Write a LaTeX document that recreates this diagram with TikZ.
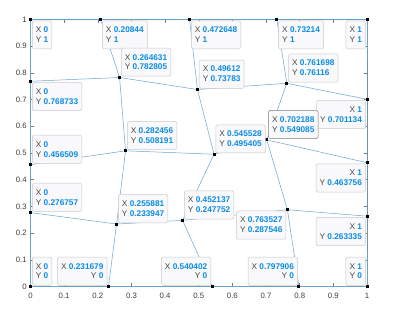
\documentclass[tikz,border=0pt]{standalone}
\usepackage{fontspec}
\setmainfont{Liberation Sans}
\usetikzlibrary{calc}
\definecolor{meshc}{RGB}{105,163,204}
\definecolor{axc}{RGB}{120,120,120}
\definecolor{ticklab}{RGB}{60,60,60}
\definecolor{tipval}{RGB}{10,140,230}
\definecolor{tiplab}{RGB}{70,70,70}
\definecolor{tipfill}{RGB}{249,249,251}
\definecolor{tipborder}{RGB}{200,200,206}
\definecolor{tipsel}{RGB}{125,125,125}
\newcommand{\tipxy}[2]{\textcolor{tiplab}{X} \textbf{\textcolor{tipval}{#1}}\\\textcolor{tiplab}{Y} \textbf{\textcolor{tipval}{#2}}}
\newcommand{\dpt}[3]{\coordinate (#1) at ({30.5+336.5*#2},{286.5-267*#3});}
\tikzset{
  meshline/.style={draw=meshc, line width=0.5bp},
  marker/.style={rectangle, fill=black, inner sep=0pt, minimum size=3bp},
  tip/.style={draw=tipborder, fill=tipfill, rounded corners=1.5bp, inner xsep=3.6bp, inner ysep=6.2bp, font=\fontsize{8.3}{10}\selectfont, line width=0.5bp},
  tipbr/.style={tip, anchor=north west, xshift=1.5bp, yshift=-1bp, align=left},
  tipar/.style={tip, anchor=south west, xshift=1.5bp, yshift=1bp, align=left},
  tipbl/.style={tip, anchor=north east, xshift=-1.2bp, yshift=-1bp, align=right},
  tipal/.style={tip, anchor=south east, xshift=-1.2bp, yshift=1bp, align=right},
  ticklabel/.style={font=\fontsize{7.8}{9}\selectfont, text=ticklab, inner sep=0pt},
}
\begin{document}
\begin{tikzpicture}[x=1bp,y=-1bp]
\useasboundingbox (0,0) rectangle (399,314);
% axes
\draw[axc, line width=0.5bp] (30.5,19.5) rectangle (367,286.5);
\foreach \i/\l in {0/0,1/0.1,2/0.2,3/0.3,4/0.4,5/0.5,6/0.6,7/0.7,8/0.8,9/0.9,10/1}{
  \draw[axc, line width=0.5bp] ({30.5+33.65*\i},286.5) -- ++(0,-3.4);
  \draw[axc, line width=0.5bp] ({30.5+33.65*\i},19.5) -- ++(0,3.4);
  \draw[axc, line width=0.5bp] (30.5,{286.5-26.7*\i}) -- ++(3.4,0);
  \draw[axc, line width=0.5bp] (367,{286.5-26.7*\i}) -- ++(-3.4,0);
  \node[ticklabel, anchor=center] (xl\i) at ({30.5+33.65*\i},295.5) {\l};
  \node[ticklabel, anchor=east] (yl\i) at (26.8,{286.5-26.7*\i}) {\l};
}
% points
\dpt{A}{0}{1}
\dpt{B}{0.20844}{1}
\dpt{C}{0.472648}{1}
\dpt{D}{0.73214}{1}
\dpt{E}{1}{1}
\dpt{F}{0}{0.768733}
\dpt{G}{0.264631}{0.782805}
\dpt{H}{0.49612}{0.73783}
\dpt{I}{0.761698}{0.76116}
\dpt{J}{1}{0.701134}
\dpt{K}{0}{0.456509}
\dpt{L}{0.282456}{0.508191}
\dpt{M}{0.545528}{0.495405}
\dpt{N}{0.702188}{0.549085}
\dpt{O}{1}{0.463756}
\dpt{P}{0}{0.276757}
\dpt{Q}{0.255881}{0.233947}
\dpt{R}{0.452137}{0.247752}
\dpt{S}{0.763527}{0.287546}
\dpt{T}{1}{0.263335}
\dpt{U}{0}{0}
\dpt{V}{0.231679}{0}
\dpt{W}{0.540402}{0}
\dpt{X}{0.797906}{0}
\dpt{Y}{1}{0}
% mesh
\draw[meshline] (A) -- (B) -- (C) -- (D) -- (E);
\draw[meshline] (F) -- (G) -- (H) -- (I) -- (J);
\draw[meshline] (K) -- (L) -- (M) -- (N) -- (O);
\draw[meshline] (P) -- (Q) -- (R) -- (S) -- (T);
\draw[meshline] (U) -- (V) -- (W) -- (X) -- (Y);
\draw[meshline] (A) -- (F) -- (K) -- (P) -- (U);
\draw[meshline] (B) -- (G) -- (L) -- (Q) -- (V);
\draw[meshline] (C) -- (H) -- (M) -- (R) -- (W);
\draw[meshline] (D) -- (I) -- (N) -- (S) -- (X);
\draw[meshline] (E) -- (J) -- (O) -- (T) -- (Y);
% markers
\foreach \p in {A,B,C,D,E,F,G,H,I,J,K,L,M,N,O,P,Q,R,S,T,U,V,W,X,Y}{
  \node[marker] (m\p) at (\p) {};
}
% data tips
\node[tipbr] (tA) at (A) {\tipxy{0}{1}};
\node[tipbr] (tB) at (B) {\tipxy{0.20844}{1}};
\node[tipbr] (tC) at (C) {\tipxy{0.472648}{1}};
\node[tipbr] (tD) at (D) {\tipxy{0.73214}{1}};
\node[tipbl] (tE) at (E) {\tipxy{1}{1}};
\node[tipbr] (tF) at (F) {\tipxy{0}{0.768733}};
\node[tipar] (tG) at (G) {\tipxy{0.264631}{0.782805}};
\node[tipar] (tH) at (H) {\tipxy{0.49612}{0.73783}};
\node[tipar] (tI) at (I) {\tipxy{0.761698}{0.76116}};
\node[tipbl] (tJ) at (J) {\tipxy{1}{0.701134}};
\node[tipar] (tK) at (K) {\tipxy{0}{0.456509}};
\node[tipar] (tL) at (L) {\tipxy{0.282456}{0.508191}};
\node[tipar] (tM) at (M) {\tipxy{0.545528}{0.495405}};
\node[tipbl] (tO) at (O) {\tipxy{1}{0.463756}};
\node[tipar] (tP) at (P) {\tipxy{0}{0.276757}};
\node[tipar] (tQ) at (Q) {\tipxy{0.255881}{0.233947}};
\node[tipar] (tR) at (R) {\tipxy{0.452137}{0.247752}};
\node[tipbl] (tS) at (S) {\tipxy{0.763527}{0.287546}};
\node[tipbl] (tT) at (T) {\tipxy{1}{0.263335}};
\node[tipar] (tU) at (U) {\tipxy{0}{0}};
\node[tipal] (tV) at (V) {\tipxy{0.231679}{0}};
\node[tipal] (tW) at (W) {\tipxy{0.540402}{0}};
\node[tipal] (tX) at (X) {\tipxy{0.797906}{0}};
\node[tipal] (tY) at (Y) {\tipxy{1}{0}};
\node[tipar, draw=tipsel] (tN) at (N) {\tipxy{0.702188}{0.549085}};
\end{tikzpicture}
\end{document}
